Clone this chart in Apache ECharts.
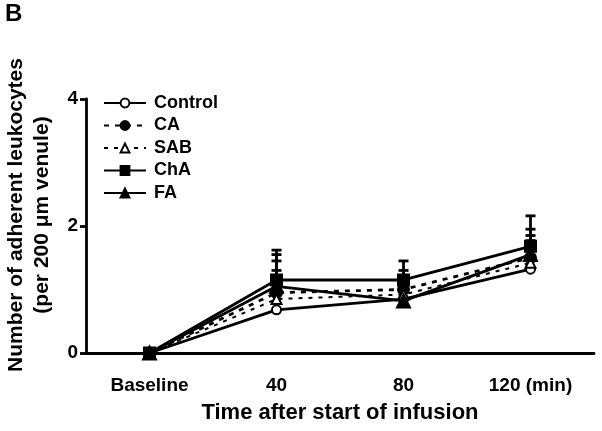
<!DOCTYPE html>
<html><head><meta charset="utf-8">
<script src="https://cdn.jsdelivr.net/npm/echarts@6/dist/echarts.min.js"></script>
<style>html,body{margin:0;padding:0;background:#fff}#c{width:602px;height:431px}</style>
</head><body><div id="c"></div>
<script>
const categories = ['Baseline', '40', '80', '120 (min)'];
const seriesNames = ['Control', 'CA', 'SAB', 'ChA', 'FA'];
const controlMean = [0, 0.68, 0.85, 1.32];
const controlErr  = [0.04, 0.40, 0.30, 0.35];
const caMean      = [0, 0.95, 1.00, 1.50];
const caErr       = [0.04, 0.50, 0.30, 0.35];
const sabMean     = [0, 0.85, 0.92, 1.42];
const sabErr      = [0.04, 0.45, 0.30, 0.35];
const chaMean     = [0, 1.15, 1.15, 1.68];
const chaErr      = [0.04, 0.47, 0.30, 0.48];
const faMean      = [0, 1.05, 0.82, 1.55];
const faErr       = [0.04, 0.50, 0.35, 0.40];
const yTicks = [0, 2, 4];

const FONT = '"Liberation Sans", Arial, sans-serif';
const means = [controlMean, caMean, sabMean, chaMean, faMean];
const errs = [controlErr, caErr, sabErr, chaErr, faErr];
const styles = [
  {symbol: 'circle', size: 9, fill: '#fff', type: 'solid', width: 2.8},
  {symbol: 'circle', size: 11, fill: '#000', type: [5, 6], width: 2.8},
  {symbol: 'triangle', size: 10, fill: '#fff', type: [4, 6], width: 2},
  {symbol: 'rect', size: 11, fill: '#000', type: 'solid', width: 2.8},
  {symbol: 'triangle', size: 13, fill: '#000', type: 'solid', width: 2.8}
];

const series = [];
seriesNames.forEach((name, i) => {
  const st = styles[i];
  series.push({
    name: name, type: 'line', z: 3,
    data: means[i],
    symbol: st.symbol, symbolSize: st.size, showAllSymbol: true,
    color: '#000',
    itemStyle: {color: st.fill, borderColor: '#000', borderWidth: 2},
    lineStyle: {color: '#000', width: st.width, type: st.type},
    animation: false
  });
});
seriesNames.forEach((name, i) => {
  series.push({
    name: name + ' SEM', type: 'custom', z: 2, color: '#000',
    data: categories.map((c, j) => [j, means[i][j], means[i][j] + errs[i][j]]),
    renderItem: function (params, api) {
      const p0 = api.coord([api.value(0), api.value(1)]);
      const p1 = api.coord([api.value(0), api.value(2)]);
      const s = {stroke: '#000', lineWidth: 2.8};
      return {type: 'group', children: [
        {type: 'line', shape: {x1: p0[0], y1: p0[1], x2: p1[0], y2: p1[1]}, style: s},
        {type: 'line', shape: {x1: p1[0] - 5, y1: p1[1], x2: p1[0] + 5, y2: p1[1]}, style: s}
      ]};
    },
    encode: {x: 0, y: [1, 2]},
    silent: true
  });
});

const chart = echarts.init(document.getElementById('c'), null, {renderer: 'canvas'});
chart.setOption({
  animation: false,
  backgroundColor: '#fff',
  grid: {left: 86, right: 8, top: 99, bottom: 78},
  legend: {
    data: seriesNames, orient: 'vertical', left: 98, top: 89,
    itemWidth: 42, itemHeight: 11, itemGap: 4.5,
    textStyle: {fontFamily: FONT, fontWeight: 'bold', fontSize: 18, color: '#000', padding: [0, 0, 0, 3]},
    inactiveColor: '#000'
  },
  xAxis: {
    type: 'category', data: categories, boundaryGap: true,
    axisLine: {lineStyle: {color: '#000', width: 2.8}},
    axisTick: {alignWithLabel: true, length: 6, lineStyle: {color: '#000', width: 2.8}},
    axisLabel: {fontFamily: FONT, fontWeight: 'bold', fontSize: 19, color: '#000', margin: 23},
    splitLine: {show: false}
  },
  yAxis: {
    type: 'value', min: 0, max: 4, interval: 2,
    axisLine: {show: true, lineStyle: {color: '#000', width: 2.8}},
    axisTick: {show: true, length: 6, lineStyle: {color: '#000', width: 2.8}},
    axisLabel: {fontFamily: FONT, fontWeight: 'bold', fontSize: 19, color: '#000', margin: 8,
      formatter: v => yTicks.includes(v) ? String(v) : ''},
    splitLine: {show: false}
  },
  graphic: [
    {type: 'text', left: 5, top: 2, style: {text: 'B', font: 'bold 24px ' + FONT, fill: '#000'}},
    {type: 'text', x: 29, y: 215, rotation: Math.PI / 2,
      style: {text: 'Number of adherent leukocytes\n(per 200 μm venule)', font: 'bold 21px ' + FONT,
        fill: '#000', align: 'center', verticalAlign: 'middle', lineHeight: 26}},
    {type: 'text', x: 340, y: 413,
      style: {text: 'Time after start of infusion', font: 'bold 22px ' + FONT, fill: '#000',
        align: 'center', verticalAlign: 'middle'}}
  ],
  series: series
});
</script></body></html>
